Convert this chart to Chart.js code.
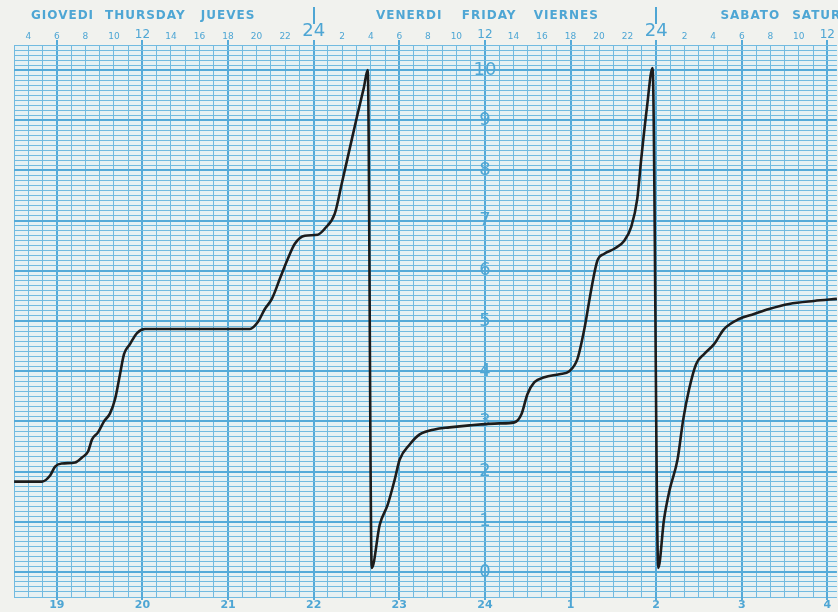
<!DOCTYPE html>
<html>
<head>
<meta charset="utf-8">
<script src="https://cdn.jsdelivr.net/npm/chart.js@4"></script>
<style>
  html, body { margin: 0; padding: 0; background: #f1f2ee; overflow: hidden; }
  #wrap { width: 838px; height: 612px; }
</style>
</head>
<body>
<div id="wrap"><canvas id="chart"></canvas></div>
<script>
// pen trace: hours since Thursday 00:00, rain in mm (drum resets at 10)
const hours = [3.01, 4.97, 5.53, 5.88, 6.37, 7.28, 7.77, 8.19, 8.47, 8.89, 9.31, 9.73, 10.08, 10.43, 10.71, 11.13, 11.62, 12.18,
  19.53, 20.09, 20.58, 21.07, 21.63, 22.19, 22.68, 23.38, 24.29, 24.78, 25.48, 25.97, 26.53, 27.09, 27.51, 27.79,
  28.07, 28.63, 29.19, 29.68, 30.03, 30.73, 31.43, 32.47, 33.52, 34.92, 37.02, 38.07, 38.56, 38.98, 39.47, 40.17,
  41.22, 41.92, 42.48, 42.97, 43.46, 43.88, 44.37, 45.07, 45.77, 46.26, 46.68, 46.96, 47.35, 47.75,
  48.15, 48.55, 48.95, 49.50, 49.90, 50.31, 50.80, 51.36, 52.06, 52.76, 53.81, 54.86, 55.91, 57.31, 59.06, 60.67];
const rain = [1.80, 1.80, 1.92, 2.10, 2.16, 2.18, 2.28, 2.40, 2.64, 2.78, 3.00, 3.16, 3.44, 3.94, 4.34, 4.54, 4.76, 4.84,
  4.84, 4.98, 5.24, 5.44, 5.84, 6.24, 6.54, 6.70, 6.72, 6.84, 7.14, 7.74, 8.44, 9.14, 9.64, 10.00,
  0.08, 0.94, 1.34, 1.84, 2.24, 2.54, 2.74, 2.84, 2.88, 2.92, 2.96, 2.98, 3.14, 3.54, 3.78, 3.88,
  3.94, 4.00, 4.24, 4.84, 5.64, 6.20, 6.34, 6.44, 6.60, 6.88, 7.44, 8.24, 9.24, 10.04,
  0.08, 1.04, 1.64, 2.24, 3.04, 3.64, 4.14, 4.34, 4.54, 4.84, 5.04, 5.14, 5.24, 5.34, 5.40, 5.44];

const dateLabels = ['19', '20', '21', '22', '23', '24', '1', '2', '3', '4'];
const rainLabels = ['0', '1', '2', '3', '4', '5', '6', '7', '8', '9', '10'];
const dayNames = ['GIOVEDI', 'THURSDAY', 'JUEVES', 'VENERDI', 'FRIDAY', 'VIERNES', 'SABATO', 'SATURDAY'];
const dayNameHours = [6.4, 12.2, 18.0, 30.7, 36.3, 41.7, 54.6, 60.3];
const midnights = [24, 48];

const BLUE = '#4ea6d4';
const GRID = '#72bbe0';
const GRID_DARK = '#55aad8';
const xMin = 3, xMax = 60.67;

const isWhole = v => Math.abs(v - Math.round(v)) < 1e-6;

const hourTicks = [];
for (let h = 3; h <= 60; h++) hourTicks.push(h);
const yTicks = [];
for (let i = -5; i <= 105; i++) yTicks.push(i / 10);

const paper = {
  id: 'paper',
  beforeDraw(chart) {
    const { ctx, chartArea: a } = chart;
    ctx.save();
    ctx.fillStyle = '#f1f2ee';
    ctx.fillRect(0, 0, chart.width, chart.height);
    ctx.fillStyle = '#e6f1f3';
    ctx.fillRect(a.left, a.top, a.right - a.left, a.bottom - a.top);
    ctx.restore();
  },
  beforeDatasetsDraw(chart) {
    const { ctx } = chart;
    const x = chart.scales.x, y = chart.scales.y;
    ctx.save();
    ctx.fillStyle = BLUE;
    ctx.font = '18px "DejaVu Sans"';
    ctx.textAlign = 'center';
    ctx.textBaseline = 'middle';
    rainLabels.forEach((t, i) => ctx.fillText(t, x.getPixelForValue(36), y.getPixelForValue(i)));
    ctx.restore();
  },
  afterDraw(chart) {
    const { ctx, chartArea: a } = chart;
    const x = chart.scales.x;
    ctx.save();
    ctx.fillStyle = BLUE;
    ctx.font = 'bold 12px "DejaVu Sans"';
    ctx.letterSpacing = '1px';
    ctx.textAlign = 'center';
    ctx.textBaseline = 'middle';
    dayNames.forEach((t, i) => ctx.fillText(t, x.getPixelForValue(dayNameHours[i]), 16));
    ctx.strokeStyle = BLUE;
    ctx.lineWidth = 2;
    midnights.forEach(h => {
      const px = Math.round(x.getPixelForValue(h));
      ctx.beginPath();
      ctx.moveTo(px, 7);
      ctx.lineTo(px, 24);
      ctx.stroke();
    });
    // short marks above and below the grid every 6 hours
    ctx.strokeStyle = GRID_DARK;
    hourTicks.filter(h => h % 6 === 0).forEach(h => {
      const px = Math.round(x.getPixelForValue(h));
      ctx.beginPath();
      ctx.moveTo(px, a.top - 5);
      ctx.lineTo(px, a.top);
      ctx.moveTo(px, a.bottom);
      ctx.lineTo(px, a.bottom + 3);
      ctx.stroke();
    });
    ctx.restore();
  }
};

new Chart(document.getElementById('chart'), {
  type: 'line',
  data: {
    datasets: [{
      data: hours.map((h, i) => ({ x: h, y: rain[i] })),
      borderColor: '#1c1c1c',
      borderWidth: 2.6,
      pointRadius: 0,
      cubicInterpolationMode: 'monotone',
      xAxisID: 'x',
      yAxisID: 'y'
    }]
  },
  options: {
    responsive: true,
    maintainAspectRatio: false,
    animation: false,
    layout: { padding: { left: 14, right: 0, top: 0, bottom: 0 } },
    plugins: { legend: { display: false }, tooltip: { enabled: false } },
    scales: {
      x: {
        type: 'linear',
        position: 'top',
        min: xMin,
        max: xMax,
        afterBuildTicks: s => { s.ticks = hourTicks.map(v => ({ value: v })); },
        afterFit: s => { s.height = 45; },
        border: { display: false },
        grid: {
          color: c => (c.tick && c.tick.value % 6 === 0) ? GRID_DARK : GRID,
          lineWidth: c => (c.tick && c.tick.value % 6 === 0) ? 2 : 1,
          drawTicks: false
        },
        ticks: {
          autoSkip: false,
          maxRotation: 0,
          padding: 3,
          color: BLUE,
          font: c => {
            const v = c.tick ? c.tick.value : 0;
            if (v % 24 === 0) return { family: 'DejaVu Sans', size: 18 };
            if (v % 12 === 0) return { family: 'DejaVu Sans', size: 12 };
            return { family: 'DejaVu Sans', size: 9 };
          },
          callback: v => {
            if (v % 2 !== 0) return '';
            const h = v % 24;
            return h === 0 ? '24' : String(h);
          }
        }
      },
      x2: {
        type: 'linear',
        position: 'bottom',
        min: xMin,
        max: xMax,
        afterBuildTicks: s => { s.ticks = dateLabels.map((_, i) => ({ value: 6 * (i + 1) })); },
        afterFit: s => { s.height = 15; },
        border: { display: false },
        grid: { display: false, drawTicks: false },
        ticks: {
          autoSkip: false,
          maxRotation: 0,
          padding: 2,
          color: BLUE,
          font: { family: 'DejaVu Sans', size: 11, weight: 'bold' },
          callback: v => dateLabels[v / 6 - 1]
        }
      },
      y: {
        type: 'linear',
        min: -0.5,
        max: 10.5,
        afterBuildTicks: s => { s.ticks = yTicks.map(v => ({ value: v })); },
        afterFit: s => { s.width = 0; },
        border: { display: false },
        grid: {
          drawTicks: false,
          color: c => (c.tick && isWhole(c.tick.value)) ? GRID_DARK : GRID,
          lineWidth: c => (c.tick && isWhole(c.tick.value)) ? 2 : 1
        },
        ticks: { display: false }
      }
    }
  },
  plugins: [paper]
});
</script>
</body>
</html>
